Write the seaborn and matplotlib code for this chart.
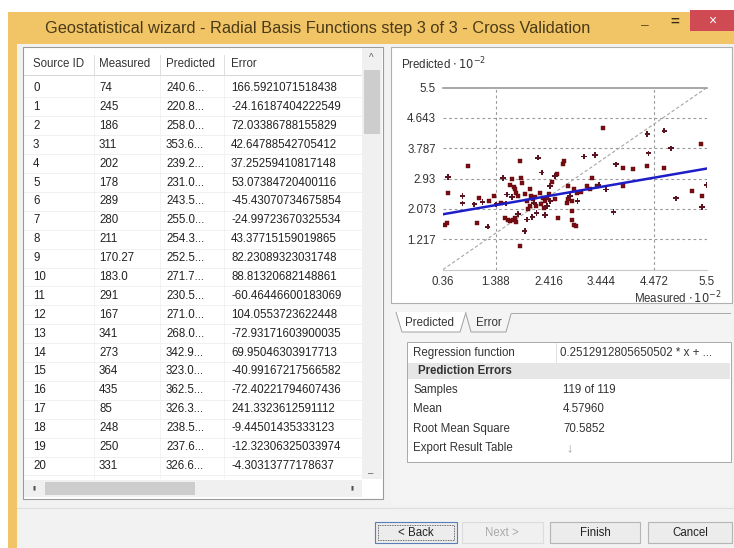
import matplotlib
matplotlib.use("Agg")
import matplotlib.pyplot as plt
import seaborn as sns
import pandas as pd
from matplotlib.patches import Rectangle, Polygon
from matplotlib import font_manager

names = {f.name for f in font_manager.fontManager.ttflist}
SANS = "Liberation Sans" if "Liberation Sans" in names else "DejaVu Sans"

# ---------------- data ----------------
title = "Geostatistical wizard - Radial Basis Functions step 3 of 3 - Cross Validation"
col_headers = ["Source ID", "Measured", "Predicted", "Error"]
source_ids = [str(i) for i in range(21)]
measured_col = ["74", "245", "186", "311", "202", "178", "289", "280", "211", "170.27",
                "183.0", "291", "167", "341", "273", "364", "435", "85", "248", "250", "331"]
predicted_col = ["240.6...", "220.8...", "258.0...", "353.6...", "239.2...", "231.0...",
                 "243.5...", "255.0...", "254.3...", "252.5...", "271.7...", "230.5...",
                 "271.0...", "268.0...", "342.9...", "323.0...", "362.5...", "326.3...",
                 "238.5...", "237.6...", "326.6..."]
error_col = ["166.5921071518438", "-24.16187404222549", "72.03386788155829",
             "42.64788542705412", "37.25259410817148", "53.07384720400116",
             "-45.43070734675854", "-24.99723670325534", "43.37715159019865",
             "82.23089323031748", "88.81320682148861", "-60.46446600183069",
             "104.0553723622448", "-72.93171603900035", "69.95046303917713",
             "-40.99167217566582", "-72.40221794607436", "241.3323612591112",
             "-9.44501435333123", "-12.32306325033974", "-4.30313777178637"]

# scatter points (Measured x 10^-2, Predicted x 10^-2)
square_x = [0.46, 0.39, 0.44, 0.85, 1.02, 1.06, 1.35, 1.49, 1.66, 1.71, 1.74, 1.76, 1.78,
            1.82, 1.86, 1.88, 1.89, 1.56, 1.63, 1.66, 1.73, 1.79, 1.76, 1.86, 1.99, 2.02,
            2.05, 2.08, 2.12, 2.17, 2.25, 2.30, 2.32, 2.34, 2.39, 2.43, 2.49, 2.57, 2.60,
            2.69, 2.72, 2.77, 2.80, 2.87, 2.87, 2.88, 2.92, 2.94, 2.91, 2.96, 3.16, 3.22,
            3.27, 3.35, 3.47, 3.86, 3.87, 4.06, 4.33, 4.67, 5.21, 5.38, 5.40, 2.05, 2.15,
            2.27, 1.95, 2.55, 2.80, 3.05, 1.25]
square_y = [2.51, 1.61, 1.66, 3.28, 1.68, 2.38, 2.44, 2.23, 2.74, 2.91, 2.70, 2.64, 2.51,
            2.44, 3.43, 2.95, 2.81, 1.82, 1.77, 1.73, 1.76, 1.70, 1.82, 1.02, 2.29, 2.06,
            2.15, 2.44, 2.34, 2.15, 2.53, 2.39, 2.11, 2.29, 2.39, 2.48, 2.83, 3.07, 1.82,
            3.33, 3.43, 2.25, 2.72, 2.29, 2.01, 1.77, 1.63, 1.59, 2.62, 2.53, 2.72, 2.62,
            2.95, 2.72, 4.35, 3.22, 2.72, 3.19, 3.27, 3.24, 2.58, 3.90, 2.44, 2.62, 2.40,
            2.20, 2.50, 2.35, 2.35, 2.55, 2.30]
cross_x = [0.46, 0.74, 0.74, 0.97, 1.13, 1.23, 1.40, 1.53, 1.58, 1.61, 1.82, 1.95, 2.00,
           2.13, 2.18, 2.21, 2.28, 2.38, 2.44, 2.54, 2.83, 3.11, 3.32, 3.39, 3.53, 3.68,
           3.73, 4.34, 4.36, 4.67, 4.80, 4.90, 5.40, 5.49, 2.45, 1.70, 2.10, 2.35, 2.98]
cross_y = [2.97, 2.44, 2.23, 2.20, 2.27, 1.57, 2.20, 2.95, 2.23, 2.48, 1.92, 1.44, 1.77,
           2.25, 1.96, 3.52, 3.10, 2.15, 2.72, 3.00, 2.44, 3.55, 3.59, 2.74, 2.62, 1.99,
           3.33, 4.18, 3.64, 4.28, 3.78, 2.37, 2.13, 2.75, 2.30, 2.40, 1.85, 1.90, 2.30]

axis_min, axis_max = 0.36, 5.5
x_ticks = [0.36, 1.388, 2.416, 3.444, 4.472, 5.5]
x_tick_labels = ["0.36", "1.388", "2.416", "3.444", "4.472", "5.5"]
y_ticks = [1.217, 2.073, 2.93, 3.787, 4.643, 5.5]
y_tick_labels = ["1.217", "2.073", "2.93", "3.787", "4.643", "5.5"]
reg_slope, reg_intercept = 0.2512912805650502, 1.83

summary_labels = ["Samples", "Mean", "Root Mean Square", "Export Result Table"]
summary_values = ["119 of 119", "4.57960", "70.5852", ""]
regression_text = "0.2512912805650502 * x + ..."

# ---------------- figure ----------------
W, H = 734, 548
fig = plt.figure(figsize=(W / 100, H / 100), dpi=100)
fig.patch.set_facecolor("white")

bg = fig.add_axes([0, 0, 1, 1], zorder=0)
bg.set_xlim(0, W)
bg.set_ylim(H, 0)
bg.axis("off")


def rect(x0, y0, x1, y1, fc="none", ec="none", lw=1.0, z=1, ls="-"):
    bg.add_patch(Rectangle((x0, y0), x1 - x0, y1 - y0, facecolor=fc, edgecolor=ec,
                           linewidth=lw, zorder=z, linestyle=ls))


def txt(x, y, s, size=8.3, color="#222222", ha="left", weight="normal", z=5, **kw):
    bg.text(x, y, s, fontsize=size, color=color, ha=ha, va="center",
            fontweight=weight, family=[SANS, "DejaVu Sans"], zorder=z, **kw)


# window frame
rect(8, 12, W, H, fc="#f1c466", z=1)
rect(17, 44, W, H, fc="#f2f2f2", z=2)
txt(45, 29, title, size=11.8, color="#4a3b18")
txt(645, 25, "–", size=10, color="#6a5520", ha="center")
txt(675, 22, "=", size=11, color="#3a2c10", ha="center", weight="bold")
rect(690, 10, W, 31, fc="#cf4a52", z=3)
txt(712, 21, "×", size=10, color="white", ha="center")

# left table panel
rect(23, 47, 383, 499, fc="white", ec="#9a9a9a", lw=0.8, z=3)
col_x = [33, 99, 166, 231]
for cx, h in zip(col_x, col_headers):
    txt(cx, 64, h, color="#333333")
for sx in [94, 160, 224]:
    bg.plot([sx, sx], [55, 74], color="#d8d8d8", lw=0.6, zorder=4)
bg.plot([24, 362], [75, 75], color="#d0d0d0", lw=0.6, zorder=4)
row0, pitch = 88, 18.9
for i in range(len(source_ids)):
    y = row0 + i * pitch
    txt(col_x[0], y, source_ids[i])
    txt(col_x[1], y, measured_col[i])
    txt(col_x[2], y, predicted_col[i])
    txt(col_x[3], y, error_col[i])
    bg.plot([24, 362], [y + pitch / 2, y + pitch / 2], color="#ececec", lw=0.5, zorder=4)
for sx in [94, 160, 224]:
    bg.plot([sx, sx], [76, 478], color="#eeeeee", lw=0.5, zorder=4)
# scrollbars
rect(362, 48, 382, 479, fc="#f0f0f0", z=4)
rect(364, 70, 380, 134, fc="#cdcdcd", z=5)
txt(371, 58, "^", size=7, color="#606060", ha="center")
txt(371, 473, "–", size=7, color="#606060", ha="center")
rect(24, 480, 362, 497, fc="#f0f0f0", z=4)
rect(45, 482, 195, 495, fc="#cdcdcd", z=5)
txt(34, 488, "▮", size=4, color="#505050", ha="center")
txt(352, 488, "▮", size=4, color="#505050", ha="center")

# right: chart panel
rect(391, 47, 732, 303, fc="white", ec="#b0b0b0", lw=0.8, z=3)
txt(401, 64, r"Predicted $\cdot\,10^{-2}$", size=8.3, color="#333333")
txt(722, 298, r"Measured $\cdot\,10^{-2}$", size=8.3, color="#333333", ha="right")

# tabs
rect(391, 303, 732, 505, fc="#f4f4f4", z=2)
bg.add_patch(Polygon([[396, 312], [402, 332], [460, 332], [466, 312]], closed=False,
                     facecolor="white", edgecolor="#a0a0a0", lw=0.7, zorder=4))
txt(405, 323, "Predicted", color="#333333")
bg.add_patch(Polygon([[466, 314], [471, 332], [506, 332], [511, 314]], closed=False,
                     facecolor="none", edgecolor="#a0a0a0", lw=0.7, zorder=4))
txt(476, 323, "Error", color="#333333")
bg.plot([511, 730], [313, 313], color="#a8a8a8", lw=0.7, zorder=4)

# property grid
rect(407, 342, 731, 462, fc="white", ec="#a8a8a8", lw=0.7, z=3)
txt(413, 353, "Regression function", color="#333333")
txt(560, 353, regression_text, color="#333333")
rect(408, 363, 730, 379, fc="#e6e6e6", z=4)
txt(418, 371, "Prediction Errors", weight="bold", color="#333333")
for k, (lab, val) in enumerate(zip(summary_labels, summary_values)):
    y = 390 + k * 19.3
    txt(413, y, lab, color="#333333")
    txt(563, y, val, color="#333333")
txt(569, 448, "↓", size=9, color="#9a9a9a", ha="center")
bg.plot([556, 556], [343, 362], color="#dddddd", lw=0.6, zorder=4)

# bottom buttons
bg.plot([17, W], [508, 508], color="#dedede", lw=0.8, zorder=3)
rect(375, 522, 457, 543, fc="#ececec", ec="#5a7fb8", lw=0.8, z=3)
rect(378, 525, 454, 540, fc="none", ec="#404040", lw=0.6, z=4, ls=(0, (1, 1)))
txt(416, 533, "< Back", color="#222222", ha="center")
rect(462, 522, 543, 543, fc="#f0f0f0", ec="#dcdcdc", lw=0.8, z=3)
txt(502, 533, "Next >", color="#a8a8a8", ha="center")
rect(550, 522, 640, 543, fc="#ececec", ec="#b5b5b5", lw=0.8, z=3)
txt(595, 533, "Finish", color="#222222", ha="center")
rect(648, 522, 732, 543, fc="#ececec", ec="#b5b5b5", lw=0.8, z=3)
txt(690, 533, "Cancel", color="#222222", ha="center")

# ---------------- scatter chart ----------------
ax = fig.add_axes([443 / W, 1 - 269.5 / H, 264 / W, 182 / H], zorder=6)
ax.set_facecolor("white")
ax.set_xlim(axis_min, axis_max)
ax.set_ylim(axis_min, axis_max)

for yt in y_ticks[:-1]:
    ax.axhline(yt, color="#9a9a9a", lw=0.8, ls=(0, (2.5, 2.5)), zorder=1)
for xt in [x_ticks[1], x_ticks[4]]:
    ax.axvline(xt, color="#9a9a9a", lw=0.8, ls=(0, (2.5, 2.5)), zorder=1)

diag = pd.DataFrame({"x": [axis_min, axis_max], "y": [axis_min, axis_max]})
sns.lineplot(data=diag, x="x", y="y", ax=ax, color="#a5a5a5", lw=0.8,
             linestyle=(0, (3, 2)), zorder=2)

sq = pd.DataFrame({"m": square_x, "p": square_y})
cr = pd.DataFrame({"m": cross_x, "p": cross_y})
sns.scatterplot(data=sq, x="m", y="p", ax=ax, marker="s", s=10, color="#7a0c12",
                edgecolor="#5a0a0e", linewidth=0.3, zorder=3)
sns.scatterplot(data=cr, x="m", y="p", ax=ax, marker="P", s=16, color="#5a1422",
                edgecolor="none", linewidth=0, zorder=3)

reg = pd.DataFrame({"x": [axis_min, axis_max]})
reg["y"] = reg_slope * reg["x"] + reg_intercept
sns.lineplot(data=reg, x="x", y="y", ax=ax, color="#1e1ec8", lw=1.8, zorder=4)

ax.set_xticks(x_ticks)
ax.set_xticklabels(x_tick_labels)
ax.set_yticks(y_ticks)
ax.set_yticklabels(y_tick_labels)
ax.tick_params(length=0, labelsize=8.3, colors="#333333", pad=5)
for lab in ax.get_xticklabels() + ax.get_yticklabels():
    lab.set_family([SANS, "DejaVu Sans"])
ax.set_xlabel("")
ax.set_ylabel("")
for side in ["left", "right"]:
    ax.spines[side].set_visible(False)
ax.spines["top"].set_color("#9a9a9a")
ax.spines["bottom"].set_color("#c8c8c8")
ax.spines["top"].set_linewidth(1.2)
ax.spines["bottom"].set_linewidth(0.8)

fig.savefig("out.png", dpi=100)
